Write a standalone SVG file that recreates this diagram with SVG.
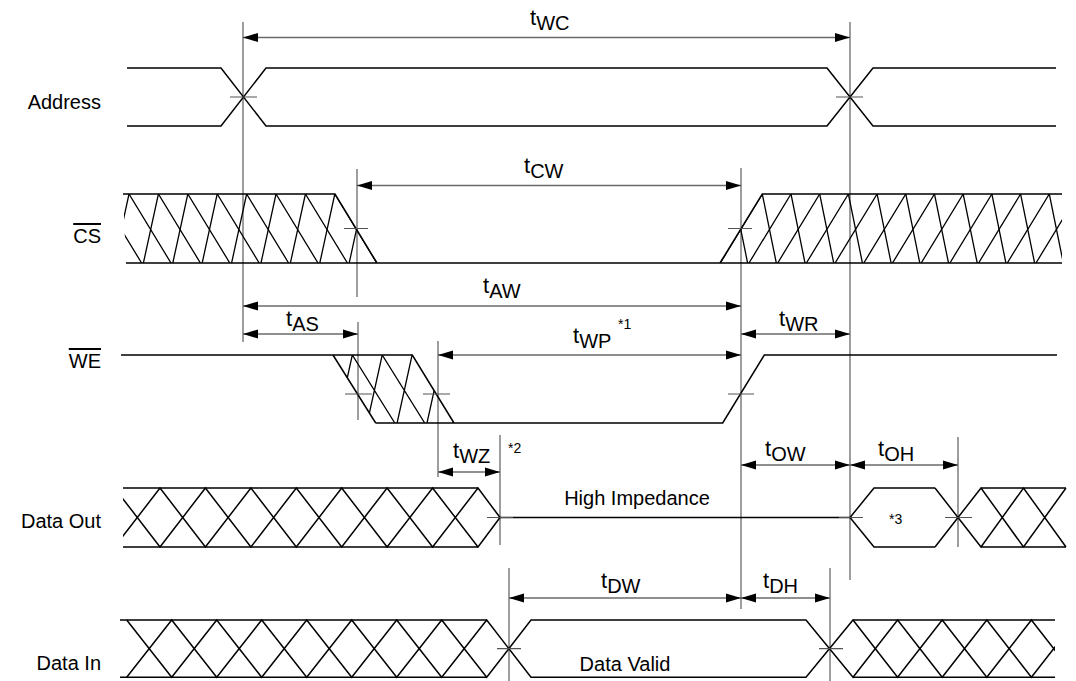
<svg xmlns="http://www.w3.org/2000/svg" width="1076" height="681" viewBox="0 0 1076 681">
<style>
.sig{fill:none;stroke:#000;stroke-width:1.5;stroke-linejoin:miter}
.hat{fill:none;stroke:#000;stroke-width:1.3}
.guide{fill:none;stroke:#6a6a6a;stroke-width:1.3}
.tick{fill:none;stroke:#555;stroke-width:1.2}
.dim{fill:none;stroke:#6a6a6a;stroke-width:1.3;marker-start:url(#ah);marker-end:url(#ah)}
.lbl{font-family:"Liberation Sans",Arial,sans-serif;font-size:20px;fill:#000}
.tl{font-family:"Liberation Sans",Arial,sans-serif;font-size:22px;fill:#000}
.sub{font-size:20px}
.note{font-family:"Liberation Sans",Arial,sans-serif;font-size:14px;fill:#000}
.ov{text-decoration:overline}
</style>
<defs>
<marker id="ah" markerUnits="userSpaceOnUse" markerWidth="15" markerHeight="10" refX="15" refY="5" orient="auto-start-reverse" viewBox="0 0 15 10">
<path d="M0,0.5 L15,5 L0,9.5 z" fill="#000"/>
</marker>
<clipPath id="cCSL"><polygon points="123,194 335,194 377,263 126,263"/></clipPath>
<clipPath id="cCSR"><polygon points="720,263 762.3,194 1062,194 1062,263"/></clipPath>
<clipPath id="cWE"><polygon points="333,355 412.3,355 454,423 375.7,423"/></clipPath>
<clipPath id="cDOL"><rect x="123" y="470" width="400" height="100"/></clipPath>
<clipPath id="cDIR"><rect x="0" y="600" width="1055" height="90"/></clipPath>
</defs>

<g id="guides">
<path class="guide" d="M243,22V342 M850,22V580 M357,169V297 M741,168V609 M358,322V420 M438,341V477 M500,435V545 M958,437V547 M509,568V681 M830,568V681"/>
</g>

<g id="connectors">
<path class="dim" d="M243,37.5H850"/>
<path class="dim" d="M357,185.5H741"/>
<path class="dim" d="M243,306H741"/>
<path class="dim" d="M243,334H358"/>
<path class="dim" d="M438,355H741"/>
<path class="dim" d="M741,334H850"/>
<path class="dim" d="M438,472H500"/>
<path class="dim" d="M741,465H850"/>
<path class="dim" d="M850,465H958"/>
<path class="dim" d="M509,598H741"/>
<path class="dim" d="M741,598H830"/>
</g>

<g id="address">
<text class="lbl" x="101" y="109" text-anchor="end">Address</text>
<path class="sig" d="M127,68H221L266,126H827L873,68H1056"/>
<path class="sig" d="M127,126H221L266,68H827L873,126H1056"/>
<path class="tick" d="M230,97H257 M836,97H863"/>
</g>

<g id="cs">
<text class="lbl ov" x="101" y="243" text-anchor="end">CS</text>
<path class="sig" d="M123,194H335L377,263 M126,263H1062 M720,263L762.3,194H1062"/>
<g clip-path="url(#cCSL)">
<path class="hat" d="M99.6,194l42,69 M129,194l42,69 M158.4,194l42,69 M187.8,194l42,69 M217.2,194l42,69 M246.6,194l42,69 M276,194l42,69 M305.4,194l42,69 M334.8,194l42,69"/>
<path class="hat" d="M129,194l-15,69 M158.4,194l-15,69 M187.8,194l-15,69 M217.2,194l-15,69 M246.6,194l-15,69 M276,194l-15,69 M305.4,194l-15,69 M334.8,194l-15,69 M364.2,194l-15,69"/>
</g>
<g clip-path="url(#cCSR)">
<path class="hat" d="M762.3,194l-42,69 M791,194l-42,69 M819.7,194l-42,69 M848.4,194l-42,69 M877.1,194l-42,69 M905.8,194l-42,69 M934.5,194l-42,69 M963.2,194l-42,69 M991.9,194l-42,69 M1020.6,194l-42,69 M1049.3,194l-42,69 M1078,194l-42,69 M1106.7,194l-42,69"/>
<path class="hat" d="M733.6,194l14,69 M762.3,194l14,69 M791,194l14,69 M819.7,194l14,69 M848.4,194l14,69 M877.1,194l14,69 M905.8,194l14,69 M934.5,194l14,69 M963.2,194l14,69 M991.9,194l14,69 M1020.6,194l14,69 M1049.3,194l14,69"/>
</g>
<path class="tick" d="M344,228.5H368 M728,228.5H752"/>
</g>

<g id="we">
<text class="lbl ov" x="101" y="368" text-anchor="end">WE</text>
<path class="sig" d="M121,355H412.3L454,423 M333,355L375.7,423 M375.7,423H722.7L764.3,355H1057"/>
<g clip-path="url(#cWE)">
<path class="hat" d="M352.3,355l42.5,68 M382.2,355l42.5,68 M352.3,355l-15,68 M382.2,355l-15,68 M412.1,355l-15,68 M442,355l-15,68"/>
</g>
<path class="tick" d="M345,394H372 M423,394H450 M728,394H754"/>
</g>

<g id="data-out">
<text class="lbl" x="101" y="528" text-anchor="end">Data Out</text>
<g clip-path="url(#cDOL)">
<path class="sig" d="M114.6,547L160,488L205.4,547L250.9,488L296.3,547L341.7,488L387.1,547L432.6,488L478,547L500,517.5"/>
<path class="sig" d="M114.6,488L160,547L205.4,488L250.9,547L296.3,488L341.7,547L387.1,488L432.6,547L478,488L500,517.5"/>
<path class="sig" d="M123,488H478 M123,547H478"/>
</g>
<path class="sig" d="M500,517.5H850"/>
<path class="sig" d="M850,517.5L874,488H935 M850,517.5L874,547H935"/>
<path class="sig" d="M935,488L958,517.5L981,547L1023.5,488L1066,547 M935,547L958,517.5L981,488L1023.5,547L1066,488 M981,488H1066 M981,547H1066"/>
<path class="tick" d="M487,517.5H513 M839,517.5H863 M945,517.5H972"/>
<text class="lbl" x="637" y="505" text-anchor="middle">High Impedance</text>
<text class="note" x="889" y="524">*3</text>
</g>

<g id="data-in">
<text class="lbl" x="101" y="670" text-anchor="end">Data In</text>
<path class="sig" d="M120,620H486.7 M120,677.3H486.7"/>
<g clip-path="url(#cDIR)">
<path class="sig" d="M126.7,620L171.7,677.3L216.7,620L261.7,677.3L306.7,620L351.7,677.3L396.7,620L441.7,677.3L486.7,620L531,677.3H806L853,620L897.6,677.3L942.2,620L986.8,677.3L1031.4,620L1076,677.3"/>
<path class="sig" d="M126.7,677.3L171.7,620L216.7,677.3L261.7,620L306.7,677.3L351.7,620L396.7,677.3L441.7,620L486.7,677.3L531,620H806L853,677.3L897.6,620L942.2,677.3L986.8,620L1031.4,677.3L1076,620"/>
<path class="sig" d="M853,620H1055 M853,677.3H1055"/>
</g>
<path class="tick" d="M497,648.7H521 M819,648.7H843"/>
<text class="lbl" x="625" y="671" text-anchor="middle">Data Valid</text>
</g>

<g id="labels">
<text class="tl" x="530" y="25">t<tspan class="sub" dy="5">WC</tspan></text>
<text class="tl" x="524" y="173">t<tspan class="sub" dy="5">CW</tspan></text>
<text class="tl" x="483" y="293">t<tspan class="sub" dy="5">AW</tspan></text>
<text class="tl" x="286" y="326">t<tspan class="sub" dy="5">AS</tspan></text>
<text class="tl" x="573" y="343">t<tspan class="sub" dy="5">WP</tspan></text>
<text class="note" x="618" y="329">*1</text>
<text class="tl" x="779" y="326">t<tspan class="sub" dy="5">WR</tspan></text>
<text class="tl" x="453" y="458">t<tspan class="sub" dy="5">WZ</tspan></text>
<text class="note" x="508" y="453">*2</text>
<text class="tl" x="765" y="456">t<tspan class="sub" dy="5">OW</tspan></text>
<text class="tl" x="878" y="456">t<tspan class="sub" dy="5">OH</tspan></text>
<text class="tl" x="601" y="588">t<tspan class="sub" dy="5">DW</tspan></text>
<text class="tl" x="763" y="588">t<tspan class="sub" dy="5">DH</tspan></text>
</g>
</svg>
